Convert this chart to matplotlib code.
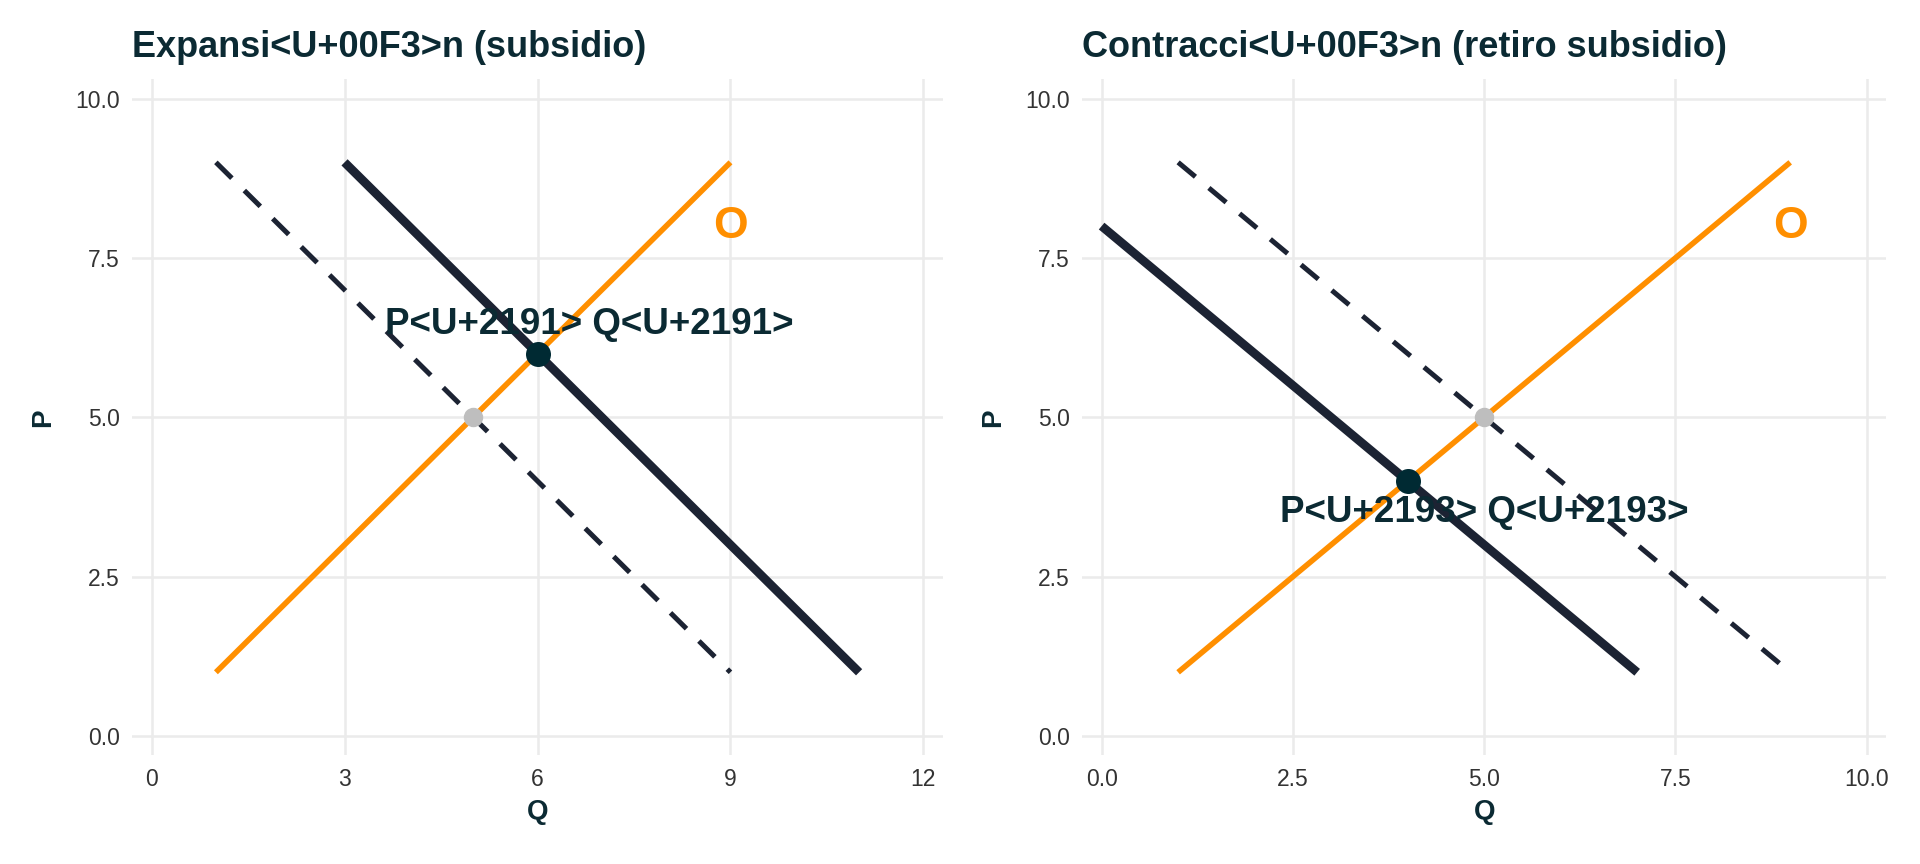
import numpy as np
import matplotlib.pyplot as plt

plt.rcParams['font.family'] = ['Liberation Sans', 'DejaVu Sans']

# supply and demand lines (Q, P) for each panel
supply_q = [1, 9]
supply_p = [1, 9]

left_title = "Expansi<U+00F3>n (subsidio)"
left_d0_q = [1, 9]
left_d0_p = [9, 1]
left_d1_q = [3, 11]
left_d1_p = [9, 1]
left_eq0 = (5, 5)
left_eq1 = (6, 6)
left_label = "P<U+2191> Q<U+2191>"
left_label_pos = (6.8, 6.45)
left_xticks = [0, 3, 6, 9, 12]

right_title = "Contracci<U+00F3>n (retiro subsidio)"
right_d0_q = [1, 9]
right_d0_p = [9, 1]
right_d1_q = [0, 7]
right_d1_p = [8, 1]
right_eq0 = (5, 5)
right_eq1 = (4, 4)
right_label = "P<U+2193> Q<U+2193>"
right_label_pos = (5.0, 3.5)
right_xticks = [0.0, 2.5, 5.0, 7.5, 10.0]

yticks = [0.0, 2.5, 5.0, 7.5, 10.0]
o_pos = (9, 8)

orange = '#FF8F00'
navy = '#1C2333'
dark = '#0B2A33'

fig = plt.figure(figsize=(19.2, 8.64), dpi=100)
ax1 = fig.add_axes([0.0689, 0.126, 0.4221, 0.782])
ax2 = fig.add_axes([0.5638, 0.126, 0.4184, 0.782])


def panel(ax, title, d0q, d0p, d1q, d1p, eq0, eq1, label, label_pos, xticks, xlim, xfmt):
    ax.plot(supply_q, supply_p, color=orange, lw=4, solid_capstyle='butt', zorder=3)
    ax.plot(d0q, d0p, color=navy, lw=3.6, ls=(0, (4.5, 3.5)), dash_capstyle='butt', zorder=3)
    ax.plot(d1q, d1p, color=navy, lw=6.3, solid_capstyle='butt', zorder=3)
    ax.plot(*eq0, 'o', color='#BEBEBE', ms=14, mec='none', zorder=4)
    ax.plot(*eq1, 'o', color='#002A33', ms=18, mec='none', zorder=5)
    ax.text(*label_pos, label, ha='center', va='center', fontsize=26.5,
            fontweight='bold', color=dark, zorder=6)
    ax.text(*o_pos, "O", ha='center', va='center', fontsize=32,
            fontweight='bold', color=orange, zorder=6)
    ax.set_xlim(*xlim)
    ax.set_ylim(-0.3, 10.3)
    ax.set_xticks(xticks)
    ax.set_xticklabels([xfmt(t) for t in xticks])
    ax.set_yticks(yticks)
    ax.set_yticklabels([f"{t:.1f}" for t in yticks])
    ax.grid(True, color='#EBEBEB', lw=1.8)
    ax.set_axisbelow(True)
    for s in ax.spines.values():
        s.set_visible(False)
    ax.tick_params(length=0, labelsize=16.5, colors='#4D4D4D', pad=9)
    for lab in ax.get_xticklabels() + ax.get_yticklabels():
        lab.set_color('#333333')
    ax.set_xlabel('Q', fontsize=20, fontweight='bold', color=dark, labelpad=6)
    ax.set_ylabel('P', fontsize=20, fontweight='bold', color=dark, labelpad=14)
    ax.set_title(title, loc='left', fontsize=26, fontweight='bold', color=dark,
                 pad=16)


panel(ax1, left_title, left_d0_q, left_d0_p, left_d1_q, left_d1_p,
      left_eq0, left_eq1, left_label, left_label_pos, left_xticks,
      (-0.3, 12.3), lambda t: f"{t:d}")
panel(ax2, right_title, right_d0_q, right_d0_p, right_d1_q, right_d1_p,
      right_eq0, right_eq1, right_label, right_label_pos, right_xticks,
      (-0.25, 10.25), lambda t: f"{t:.1f}")

fig.savefig('out.png', dpi=100, facecolor='white')
